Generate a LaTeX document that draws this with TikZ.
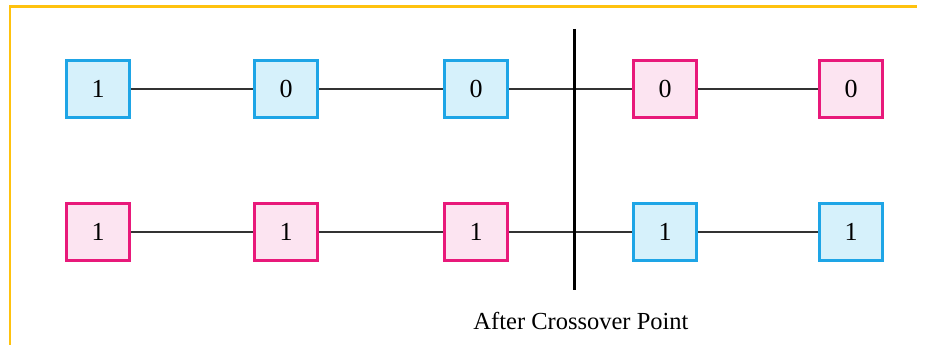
\documentclass[tikz,border=0pt]{standalone}
\usepackage{fontspec}
\setmainfont{Liberation Serif}
\definecolor{bstroke}{HTML}{1EA5E6}
\definecolor{bfill}{HTML}{D6F1FB}
\definecolor{pstroke}{HTML}{E8197A}
\definecolor{pfill}{HTML}{FCE4F1}
\definecolor{frame}{HTML}{FFC20E}
\definecolor{link}{HTML}{333333}
\tikzset{
  gene/.style={draw, line width=3pt, minimum width=63pt, minimum height=57pt, inner sep=0pt, font=\fontsize{26}{26}\selectfont},
  bluegene/.style={gene, draw=bstroke, fill=bfill},
  pinkgene/.style={gene, draw=pstroke, fill=pfill},
  link/.style={draw=link, line width=2.5pt},
}
\begin{document}
\begin{tikzpicture}[x=1pt,y=-1pt]
\useasboundingbox (0,0) rectangle (926,345);
\draw[frame, line width=2.5pt] (10,345) -- (10,6.5) -- (917,6.5);
% row 1
\node[bluegene] (a1) at (98,89) {1};
\node[bluegene] (a2) at (286,89) {0};
\node[bluegene] (a3) at (476,89) {0};
\node[pinkgene] (a4) at (665,89) {0};
\node[pinkgene] (a5) at (851,89) {0};
% row 2
\node[pinkgene] (b1) at (98,232) {1};
\node[pinkgene] (b2) at (286,232) {1};
\node[pinkgene] (b3) at (476,232) {1};
\node[bluegene] (b4) at (665,232) {1};
\node[bluegene] (b5) at (851,232) {1};
\foreach \r in {a,b}{
  \draw[link] (\r1) -- (\r2);
  \draw[link] (\r2) -- (\r3);
  \draw[link] (\r3) -- (\r4);
  \draw[link] (\r4) -- (\r5);
}
\coordinate (ctop) at (574.5,29);
\coordinate (cbot) at (574.5,290);
\draw[black, line width=3pt] (ctop) -- (cbot);
\node[font=\fontsize{24.5}{24.5}\selectfont, anchor=base] (lbl) at (581,329) {After Crossover Point};
\end{tikzpicture}
\end{document}
